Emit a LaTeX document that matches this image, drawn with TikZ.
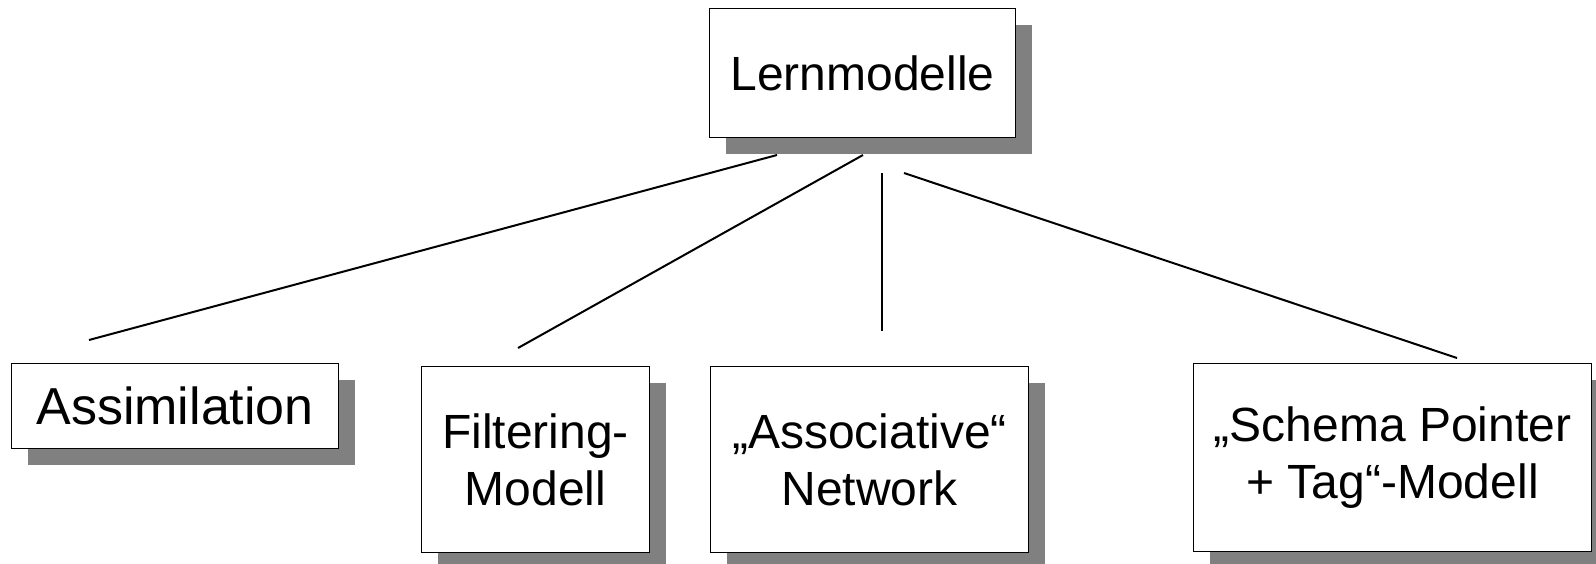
\documentclass[tikz,border=0pt]{standalone}
\usepackage{fontspec}
\setmainfont{Liberation Sans}
\usetikzlibrary{shadows}
\tikzset{
  modelbox/.style={draw=black, line width=1.2pt, fill=white, inner sep=0pt,
    anchor=north west, align=center,
    drop shadow={shadow xshift=16pt, shadow yshift=-16pt, fill=black!50, opacity=1},
    font=\fontsize{48}{57}\selectfont},
  link/.style={draw=black, line width=2pt}
}
\begin{document}
\begin{tikzpicture}[x=1pt, y=-1pt]
  \clip (0,0) rectangle (1596,563);
  \fill[white] (0,0) rectangle (1596,563);

  % root and leaf boxes
  \node[modelbox, minimum width=306pt, minimum height=129pt] (root) at (709,8) {Lernmodelle};
  \node[modelbox, minimum width=327pt, minimum height=85pt,
        font=\fontsize{52}{60}\selectfont] (assim) at (11,363) {Assimilation};
  \node[modelbox, minimum width=228pt, minimum height=186pt] (filter) at (421,366) {Filtering-\\Modell};
  \node[modelbox, minimum width=318pt, minimum height=186pt] (assoc) at (710,366) {„Associative“\\Network};
  \node[modelbox, minimum width=398pt, minimum height=188pt] (schema) at (1193,363) {„Schema Pointer\\+ Tag“-Modell};

  % free ends of the connectors, kept clear of the boxes
  \coordinate (r1) at (777,155);
  \coordinate (r2) at (863,155);
  \coordinate (r3) at (882,173);
  \coordinate (r4) at (904,173);
  \coordinate (l1) at (89,340);
  \coordinate (l2) at (518,348);
  \coordinate (l3) at (882,331);
  \coordinate (l4) at (1457,358);

  \draw[link] (r1) -- (l1);
  \draw[link] (r2) -- (l2);
  \draw[link] (r3) -- (l3);
  \draw[link] (r4) -- (l4);
\end{tikzpicture}
\end{document}
